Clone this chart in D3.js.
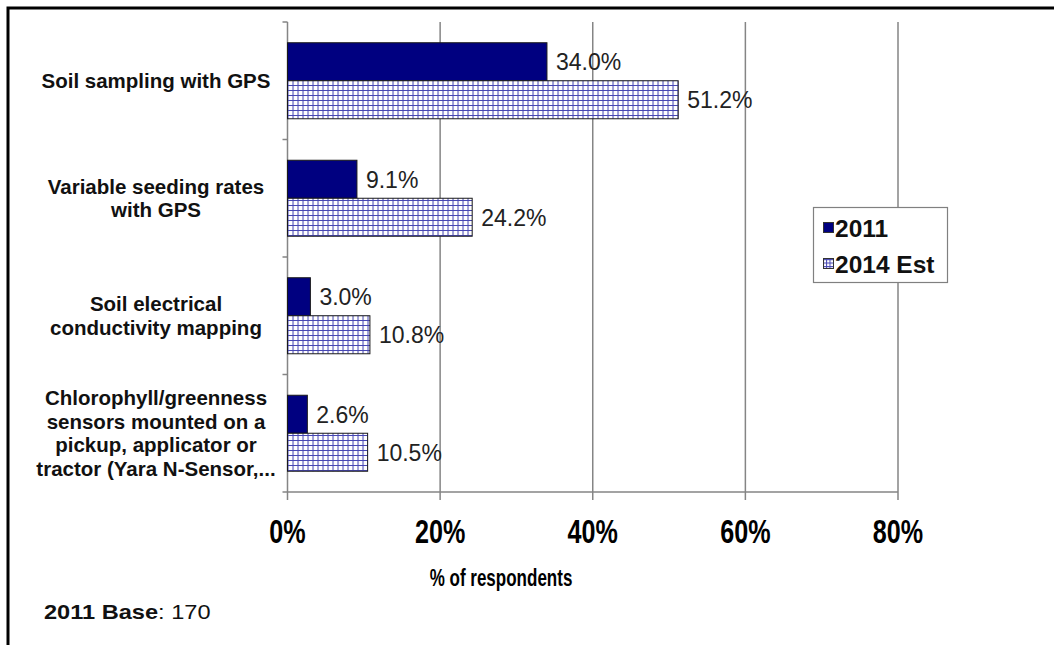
<!DOCTYPE html>
<html>
<head>
<meta charset="utf-8">
<script src="https://cdn.jsdelivr.net/npm/d3@7"></script>
<style>
  html, body { margin: 0; padding: 0; background: #fff; }
  svg { display: block; font-family: "Liberation Sans", Arial, sans-serif; }
</style>
</head>
<body>
<svg id="chart" width="1054" height="645"></svg>
<script>
// ---- data ----
const categories = [
  "Soil sampling with GPS",
  "Variable seeding rates\nwith GPS",
  "Soil electrical\nconductivity mapping",
  "Chlorophyll/greenness\nsensors mounted on a\npickup, applicator or\ntractor (Yara N-Sensor,..."
];
const seriesNames = ["2011", "2014 Est"];
const values2011 = [34.0, 9.1, 3.0, 2.6];
const values2014 = [51.2, 24.2, 10.8, 10.5];
const xTicks = [0, 20, 40, 60, 80];
const xTitle = "% of respondents";

// ---- layout ----
const svg = d3.select("#chart");
const W = 1054, H = 645;
const plot = { left: 287.5, right: 898, top: 22, bottom: 492 };

const x = d3.scaleLinear().domain([0, 80]).range([plot.left, plot.right]);
const y = d3.scaleBand().domain(d3.range(categories.length)).range([plot.top, plot.bottom]).paddingInner(0.353).paddingOuter(0.1765);
const yCat = d3.scaleBand().domain(d3.range(categories.length)).range([plot.top, plot.bottom]);
const sub = d3.scaleBand().domain([0, 1]).range([0, y.bandwidth()]);

// pattern
const defs = svg.append("defs");
const pat = defs.append("pattern").attr("id", "grid").attr("patternUnits", "userSpaceOnUse")
  .attr("width", 5).attr("height", 5).attr("x", plot.left).attr("y", 0);
pat.append("rect").attr("width", 5).attr("height", 5).attr("fill", "#fff");
pat.append("path").attr("d", "M0,0.5H5M0.5,0V5").attr("stroke", "#4747b3").attr("stroke-width", 1.1).attr("fill", "none");
const patS = defs.append("pattern").attr("id", "gridS").attr("patternUnits", "userSpaceOnUse")
  .attr("width", 3.5).attr("height", 3.5);
patS.append("rect").attr("width", 3.5).attr("height", 3.5).attr("fill", "#fff");
patS.append("path").attr("d", "M0,0.5H3.5M0.5,0V3.5").attr("stroke", "#4747b3").attr("stroke-width", 1).attr("fill", "none");

// frame
svg.append("path").attr("d", `M8,${H}V8H${W}`).attr("fill", "none").attr("stroke", "#000").attr("stroke-width", 3);

// gridlines
svg.append("g").selectAll("line").data(xTicks.slice(1)).join("line")
  .attr("x1", d => x(d)).attr("x2", d => x(d))
  .attr("y1", plot.top).attr("y2", plot.bottom + 8)
  .attr("stroke", "#858585").attr("stroke-width", 1.5);

// x axis line + ticks
svg.append("line").attr("x1", plot.left - 5).attr("x2", plot.right)
  .attr("y1", plot.bottom).attr("y2", plot.bottom).attr("stroke", "#858585").attr("stroke-width", 1.5);
svg.append("line").attr("x1", plot.left).attr("x2", plot.left)
  .attr("y1", plot.top).attr("y2", plot.bottom + 8).attr("stroke", "#858585").attr("stroke-width", 1.5);
// category ticks
svg.append("g").selectAll("line").data(d3.range(categories.length)).join("line")
  .attr("x1", plot.left - 5).attr("x2", plot.left)
  .attr("y1", d => yCat(d)).attr("y2", d => yCat(d))
  .attr("stroke", "#858585").attr("stroke-width", 1.5);

// x tick labels
svg.append("g").selectAll("text").data(xTicks).join("text")
  .attr("transform", d => `translate(${x(d)},543) scale(0.74,1)`)
  .attr("text-anchor", "middle")
  .attr("font-size", 34).attr("font-weight", "bold").attr("fill", "#000")
  .text(d => d + "%");

// x title
svg.append("text").attr("transform", "translate(501,586) scale(0.74,1)")
  .attr("text-anchor", "middle").attr("font-size", 23).attr("font-weight", "bold")
  .text(xTitle);

// bars
const g = svg.append("g");
categories.forEach((c, i) => {
  const y0 = y(i);
  const vals = [values2011[i], values2014[i]];
  vals.forEach((v, j) => {
    g.append("rect")
      .attr("x", x(0)).attr("y", y0 + sub(j))
      .attr("width", x(v) - x(0)).attr("height", sub.bandwidth())
      .attr("fill", j === 0 ? "#000080" : "url(#grid)")
      .attr("stroke", "#1a1a1a").attr("stroke-width", 1);
    g.append("text")
      .attr("x", x(v) + 9).attr("y", y0 + sub(j) + sub.bandwidth() / 2)
      .attr("dy", "0.36em").attr("font-size", 23).attr("fill", "#222")
      .text(v.toFixed(1) + "%");
  });
});

// category labels
const lineH = 23.5;
categories.forEach((c, i) => {
  const lines = c.split("\n");
  const cy = yCat(i) + yCat.bandwidth() / 2;
  const t = svg.append("text").attr("text-anchor", "middle")
    .attr("font-size", 20.5).attr("font-weight", "bold").attr("fill", "#111");
  lines.forEach((ln, k) => {
    t.append("tspan").attr("x", 156)
      .attr("y", cy + (k - (lines.length - 1) / 2) * lineH)
      .attr("dy", "0.36em").text(ln);
  });
});

// legend
const lg = svg.append("g");
lg.append("rect").attr("x", 813.5).attr("y", 207.5).attr("width", 134).attr("height", 75)
  .attr("fill", "#fff").attr("stroke", "#808080").attr("stroke-width", 1.2);
seriesNames.forEach((s, j) => {
  const cy = 228 + j * 36;
  lg.append("rect").attr("x", 823.5).attr("y", cy - 5.5).attr("width", 10).attr("height", 10)
    .attr("fill", j === 0 ? "#000080" : "url(#gridS)").attr("stroke", "#333").attr("stroke-width", 1);
  lg.append("text").attr("x", 835).attr("y", cy).attr("dy", "0.36em")
    .attr("font-size", 24.5).attr("font-weight", "bold").attr("fill", "#111").text(s);
});

// footnote
const fn = svg.append("text").attr("transform", "translate(44,619) scale(1.18,1)").attr("font-size", 20).attr("fill", "#111");
fn.append("tspan").attr("font-weight", "bold").text("2011 Base");
fn.append("tspan").text(": 170");
</script>
</body>
</html>
